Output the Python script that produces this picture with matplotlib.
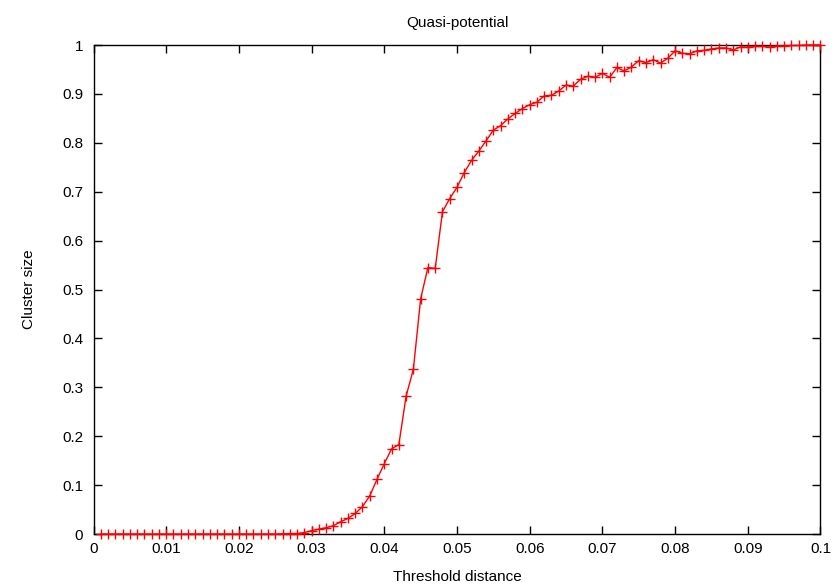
import matplotlib
matplotlib.use("Agg")
import matplotlib.pyplot as plt
from matplotlib.ticker import MultipleLocator, FormatStrFormatter

plt.rcParams['font.family'] = ['Liberation Sans', 'DejaVu Sans']

# Threshold distance values (0.001 .. 0.100)
threshold = [round(0.001 * (i + 1), 3) for i in range(100)]

# Relative size of the largest cluster at each threshold
cluster_size = [
    0, 0, 0, 0, 0, 0, 0, 0, 0, 0,                                  # 0.001-0.010
    0, 0, 0, 0, 0, 0, 0, 0, 0, 0,                                  # 0.011-0.020
    0, 0, 0, 0, 0, 0.0005, 0.001, 0.001, 0.003, 0.007,             # 0.021-0.030
    0.010, 0.013, 0.017, 0.025, 0.032, 0.042, 0.056, 0.078, 0.112, 0.144,  # 0.031-0.040
    0.174, 0.183, 0.282, 0.337, 0.481, 0.545, 0.543, 0.659, 0.686, 0.709,  # 0.041-0.050
    0.739, 0.764, 0.783, 0.804, 0.826, 0.835, 0.849, 0.860, 0.870, 0.878,  # 0.051-0.060
    0.883, 0.896, 0.897, 0.906, 0.918, 0.916, 0.930, 0.936, 0.934, 0.942,  # 0.061-0.070
    0.934, 0.954, 0.947, 0.955, 0.968, 0.964, 0.970, 0.963, 0.973, 0.988,  # 0.071-0.080
    0.983, 0.982, 0.988, 0.989, 0.992, 0.994, 0.994, 0.990, 0.996, 0.996,  # 0.081-0.090
    0.997, 0.997, 0.996, 0.998, 0.998, 0.999, 0.999, 1.0, 1.0, 1.0,        # 0.091-0.100
]

fig = plt.figure(figsize=(8.35, 5.86), dpi=100)
ax = fig.add_axes([0.112, 0.0887, 0.8706, 0.8345])

ax.plot(threshold, cluster_size, color='#ff0000', linewidth=1.0,
        marker='+', markersize=6.5, markeredgewidth=1.0, clip_on=False, zorder=3)

ax.set_xlim(0, 0.1)
ax.set_ylim(0, 1)
ax.xaxis.set_major_locator(MultipleLocator(0.01))
ax.yaxis.set_major_locator(MultipleLocator(0.1))
ax.xaxis.set_major_formatter(FormatStrFormatter('%g'))
ax.yaxis.set_major_formatter(FormatStrFormatter('%g'))

ax.tick_params(direction='in', length=6, width=1, top=True, right=True,
               labelsize=11, colors='black')
ax.tick_params(axis='x', pad=6)
ax.tick_params(axis='y', pad=7.5)
for s in ax.spines.values():
    s.set_linewidth(1.0)
    s.set_color('black')

ax.set_title('Quasi-potential', fontsize=11, pad=13)
ax.set_xlabel('Threshold distance', fontsize=11, labelpad=10)
ax.set_ylabel('Cluster size', fontsize=11, labelpad=19)

fig.savefig('out.png', dpi=100)
